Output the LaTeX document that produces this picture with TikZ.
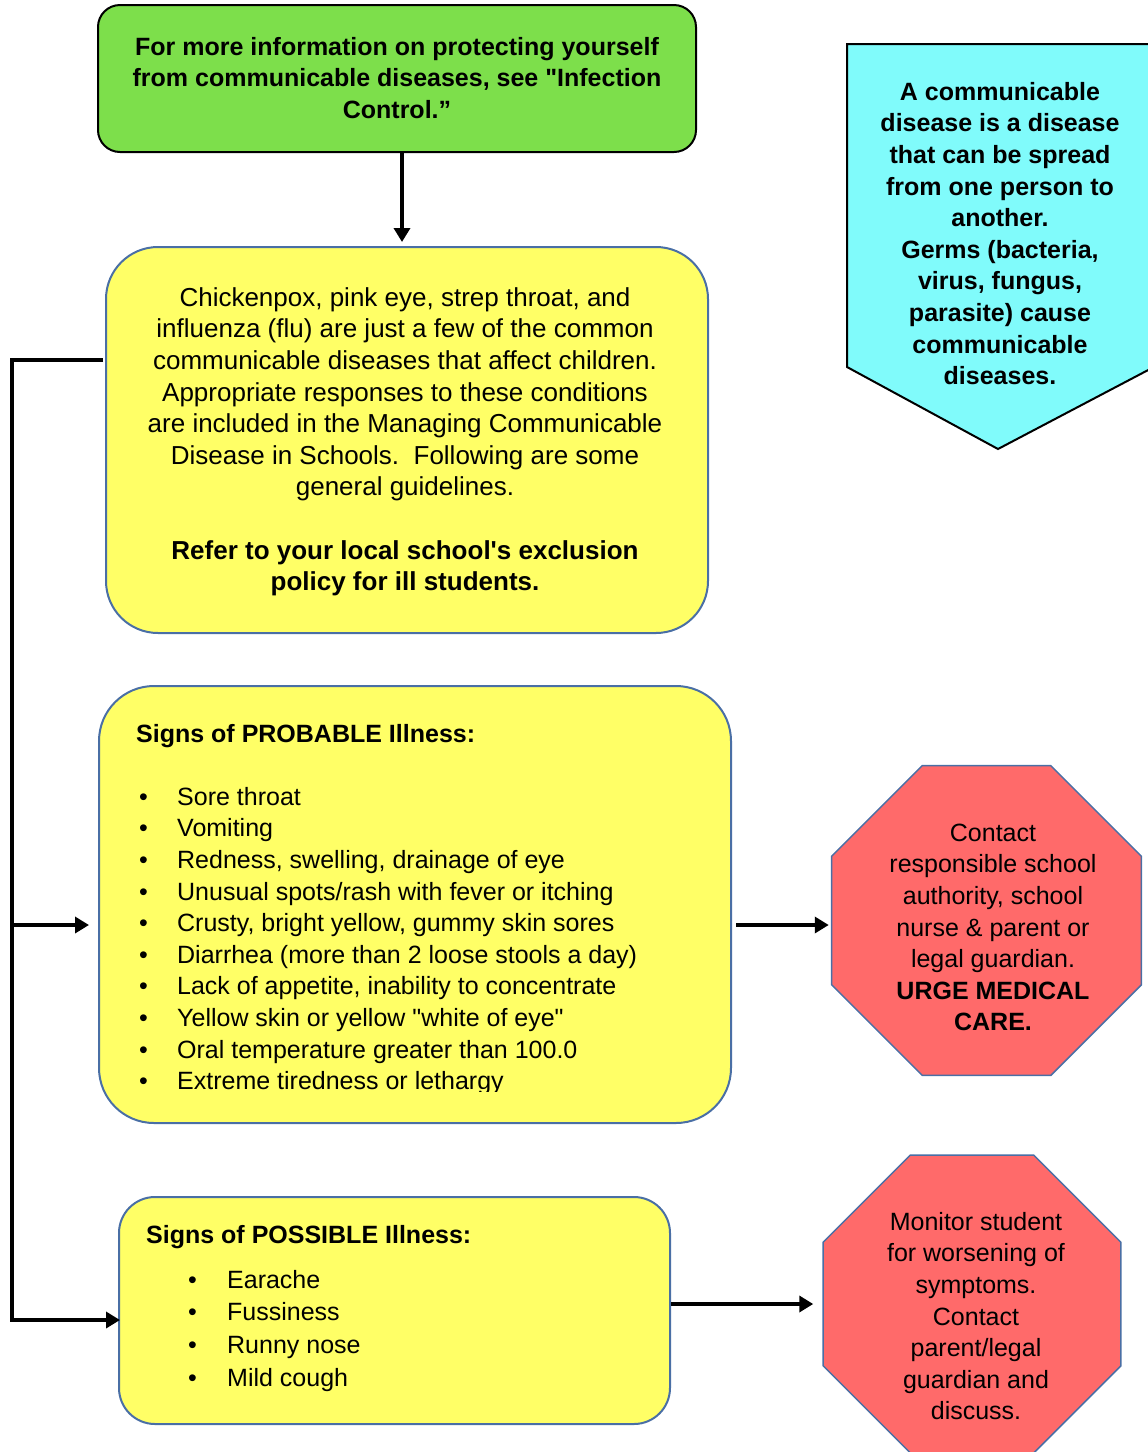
\documentclass[tikz,border=0pt]{standalone}
\usepackage{fontspec}
\setmainfont{Liberation Sans}[Ligatures=TeXOff]
\usetikzlibrary{arrows.meta,shapes.geometric,calc}

\definecolor{boxgreen}{HTML}{7DDF4B}
\definecolor{boxyellow}{HTML}{FFFF66}
\definecolor{boxcyan}{HTML}{80FBFB}
\definecolor{stopred}{HTML}{FF6A6A}
\definecolor{slateedge}{HTML}{4A6FA5}

\tikzset{
  txt/.style={inner sep=0pt, text=black, font=\fontsize{25}{31.6}\selectfont},
  btxt/.style={inner sep=0pt, text=black, font=\fontsize{25}{31.6}\selectfont\bfseries},
  ctxt/.style={align=center, anchor=north},
  ltxt/.style={align=left, anchor=north west},
  greenbox/.style={draw=black, line width=2pt, fill=boxgreen, rounded corners=22pt, inner sep=0pt},
  yellowbox/.style={draw=slateedge, line width=2pt, fill=boxyellow, inner sep=0pt},
  stopsign/.style={regular polygon, regular polygon sides=8, draw=slateedge, line width=1.5pt, fill=stopred, inner sep=0pt},
  link/.style={line width=4.5pt},
  arr/.style={line width=4.5pt, -{Triangle[length=14pt,width=16pt]}},
}
\newcommand{\blt}[1]{\makebox[#1][l]{•}}

\begin{document}
\begin{tikzpicture}[x=1pt,y=-1pt]
\useasboundingbox (0,0) rectangle (1148,1452);

% information box at the top
\node[greenbox, minimum width=598pt, minimum height=147pt] (info) at (397,78.5) {};
\node[btxt, ctxt] (infotext) at (397,35) {\rule{0pt}{20pt}For more information on protecting yourself\\
from communicable diseases, see "Infection\\ Control.”};

% general guidelines
\node[yellowbox, rounded corners=52pt, minimum width=602pt, minimum height=386pt] (general) at (407,440) {};
\node[txt, ctxt, font=\fontsize{26}{31.6}\selectfont] (generaltext) at (405,285) {\rule{0pt}{21pt}Chickenpox, pink eye, strep throat, and\\
influenza (flu) are just a few of the common\\
communicable diseases that affect children.\\
Appropriate responses to these conditions\\
are included in the Managing Communicable\\
Disease in Schools.\ \ Following are some\\
general guidelines.\\[31.6pt]
\textbf{Refer to your local school's exclusion}\\
\textbf{policy for ill students.}};

% definition pentagon
\draw[fill=boxcyan, line width=2pt, draw=black] (847,44) -- (1152,44) -- (1152,368) -- (998,449) -- (847,367) -- cycle;
\node[btxt, ctxt] (definition) at (1000,80) {\rule{0pt}{20pt}A communicable\\
disease is a disease\\
that can be spread\\
from one person to\\
another.\\
Germs (bacteria,\\
virus, fungus,\\
parasite) cause\\
communicable\\
diseases.};

% probable illness
\node[yellowbox, rounded corners=55pt, minimum width=632pt, minimum height=437pt] (probable) at (415,904.5) {};
\node[btxt, anchor=base west] (probhead) at (136,742) {Signs of PROBABLE Illness:};
\begin{scope}
  \clip (100,700) rectangle (730,1091);
  \node[txt, ltxt] (problist) at (139,785) {\rule{0pt}{20pt}\blt{38pt}Sore throat\\
  \blt{38pt}Vomiting\\
  \blt{38pt}Redness, swelling, drainage of eye\\
  \blt{38pt}Unusual spots/rash with fever or itching\\
  \blt{38pt}Crusty, bright yellow, gummy skin sores\\
  \blt{38pt}Diarrhea (more than 2 loose stools a day)\\
  \blt{38pt}Lack of appetite, inability to concentrate\\
  \blt{38pt}Yellow skin or yellow "white of eye"\\
  \blt{38pt}Oral temperature greater than 100.0\\
  \blt{38pt}Extreme tiredness or lethargy};
\end{scope}

% possible illness
\node[yellowbox, rounded corners=36pt, minimum width=551pt, minimum height=227pt] (possible) at (394.5,1310.5) {};
\node[btxt, anchor=base west] (posshead) at (146,1243) {Signs of POSSIBLE Illness:};
\node[txt, ltxt, font=\fontsize{25}{32.7}\selectfont] (posslist) at (188,1268) {\rule{0pt}{20pt}\blt{39pt}Earache\\
\blt{39pt}Fussiness\\
\blt{39pt}Runny nose\\
\blt{39pt}Mild cough};

% action signs
\node[stopsign, minimum size=335.5pt] (urgent) at (986.5,920.5) {};
\node[txt, ctxt] (urgenttext) at (993,821) {\rule{0pt}{20pt}Contact\\
responsible school\\
authority, school\\
nurse \& parent or\\
legal guardian.\\
\textbf{URGE MEDICAL}\\
\textbf{CARE.}};

\node[stopsign, minimum size=322.5pt] (monitor) at (972,1304) {};
\node[txt, ctxt] (monitortext) at (976,1210) {\rule{0pt}{20pt}Monitor student\\
for worsening of\\
symptoms.\\
Contact\\
parent/legal\\
guardian and\\
discuss.};

% connectors
\coordinate (trunktop) at (12,360);
\coordinate (branch) at (12,925);
\coordinate (trunkbot) at (12,1320);

\draw[arr, shorten >=4pt] ([xshift=5pt]info.south) -- ([xshift=5pt]info.south |- general.north);
\draw[link, line join=miter] ([xshift=-2pt]general.west |- trunktop) -- (trunktop) -- (branch);
\draw[arr, line join=miter] (branch) -- (trunkbot) -- ([xshift=2pt]possible.west |- trunkbot);
\draw[arr, shorten >=9pt] (branch) -- (probable.west |- branch);
\draw[arr, shorten <=4pt, shorten >=2pt] (probable.east |- branch) -- (urgent.west |- branch);
\draw[arr, shorten >=9pt] (possible.east |- monitor) -- (monitor.west);
\end{tikzpicture}
\end{document}
